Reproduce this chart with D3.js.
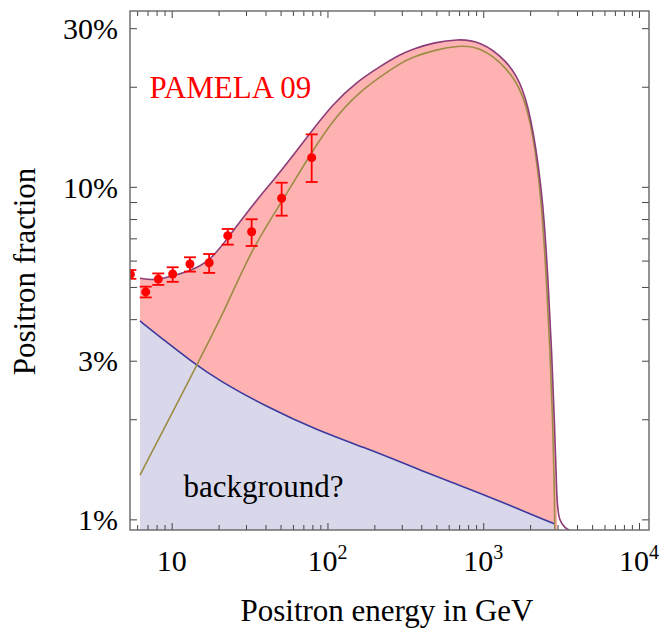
<!DOCTYPE html>
<html>
<head>
<meta charset="utf-8">
<script src="https://cdn.jsdelivr.net/npm/d3@7"></script>
<style>
  body { margin: 0; background: #fff; }
  svg { display: block; font-family: "Liberation Serif", "Times New Roman", serif; }
</style>
</head>
<body>
<svg id="chart" width="660" height="638"></svg>
<script>
//  background curve (energy in GeV, positron fraction in %)
const bgEnergy = [6.26, 9.29, 13.1, 19.9, 40.7, 85.2, 178.5, 292, 600, 952, 2886];
const bgFrac   = [3.95, 3.41, 3.01, 2.62, 2.18, 1.856, 1.635, 1.49, 1.30, 1.20, 0.968];

//  signal curve
const sigEnergy = [6.26, 12.97, 14.47, 21.98, 32.6, 50.8, 79.2, 109, 152.4, 217, 292, 355, 490, 691, 952, 1413, 1806, 2094, 2370, 2552, 2681, 2788, 2856, 2886, 2895];
const sigFrac   = [1.359, 2.624, 2.911, 4.26, 6.5, 9.0, 12.73, 15.9, 18.9, 21.4, 23.5, 24.6, 25.8, 26.6, 26.4, 22.97, 19.1, 14.48, 9.12, 5.13, 3.23, 2.035, 1.283, 0.929, 0.5];

//  total = signal + background
const totEnergy = [6.26, 7.44, 8.6, 10.15, 13.11, 17.43, 22.88, 32.6, 50.8, 77.2, 109, 152.4, 217, 292, 355, 490, 675, 952, 1413, 1806, 2094, 2427, 2613, 2748, 2856, 2959, 2985, 3782, 4300];
const totFrac   = [5.31, 5.25, 5.29, 5.40, 5.59, 5.95, 7.0, 8.75, 11.2, 14.5, 17.8, 20.6, 23.0, 25.0, 26.0, 27.2, 27.8, 27.5, 24.1, 20.0, 15.0, 9.12, 5.13, 3.23, 2.035, 1.283, 0.961, 0.918, 0.88];
const fillEnd = 27;  // pink fill stops at the cutoff

//  PAMELA 09 data points
const pamE  = [5.43, 6.81, 8.20, 10.15, 13.1, 17.4, 22.9, 32.6, 50.8, 79.2];
const pamF  = [5.46, 4.83, 5.28, 5.47, 5.86, 5.91, 7.13, 7.33, 9.24, 12.24];
const pamHi = [5.62, 5.01, 5.49, 5.73, 6.14, 6.28, 7.47, 7.99, 10.29, 14.38];
const pamLo = [5.29, 4.65, 5.07, 5.18, 5.56, 5.51, 6.70, 6.64, 8.19, 10.34];

//  ticks
const xMajor = [10, 100, 1000, 10000];
const xMajorLabels = [["10", ""], ["10", "2"], ["10", "3"], ["10", "4"]];
const xMinor = [6, 7, 8, 9, 20, 30, 40, 50, 60, 70, 80, 90, 200, 300, 400, 500, 600, 700, 800, 900,
                2000, 3000, 4000, 5000, 6000, 7000, 8000, 9000];
const yTicks = [1, 2, 3, 4, 5, 6, 7, 8, 9, 10, 20, 30];
const yLabelTicks = [1, 3, 10, 30];

const w = 660, h = 638;
const margin = {top: 11, right: 11, bottom: 108, left: 130};
const svg = d3.select("#chart");

const x = d3.scaleLog().domain([5.4, 11590]).range([margin.left, w - margin.right]);
const y = d3.scaleLog().domain([0.929, 33.79]).range([h - margin.bottom, margin.top]);
const px0 = margin.left, px1 = w - margin.right, py0 = margin.top, py1 = h - margin.bottom;

svg.append("clipPath").attr("id", "plotclip")
  .append("rect").attr("x", px0).attr("y", py0).attr("width", px1 - px0).attr("height", py1 - py0);

const plot = svg.append("g").attr("clip-path", "url(#plotclip)");

const bgPts  = bgEnergy.map((e, i) => [e, bgFrac[i]]);
const sigPts = sigEnergy.map((e, i) => [e, sigFrac[i]]);
const totPts = totEnergy.map((e, i) => [e, totFrac[i]]);

const line = d3.line().x(d => x(d[0])).y(d => y(d[1])).curve(d3.curveBasis);
const area = d3.area().x(d => x(d[0])).y0(py1).y1(d => y(d[1])).curve(d3.curveBasis);

//  fills
plot.append("path").attr("d", area(totPts.slice(0, fillEnd))).attr("fill", "#ffb2b2");
plot.append("path").attr("d", area(bgPts)).attr("fill", "#d9d8eb");

//  curves
plot.append("path").attr("d", line(bgPts)).attr("fill", "none")
  .attr("stroke", "#3a3a9e").attr("stroke-width", 1.6);
plot.append("path").attr("d", line(sigPts)).attr("fill", "none")
  .attr("stroke", "#9c8c45").attr("stroke-width", 1.6);
plot.append("path").attr("d", line(totPts)).attr("fill", "none")
  .attr("stroke", "#8c3c78").attr("stroke-width", 1.6);

//  data points with error bars
const pts = plot.append("g").attr("stroke", "#ff0000").attr("fill", "#ff0000").attr("stroke-width", 1.8);
pamE.forEach((e, i) => {
  const cx = x(e);
  pts.append("line").attr("x1", cx).attr("x2", cx).attr("y1", y(pamLo[i])).attr("y2", y(pamHi[i]));
  pts.append("line").attr("x1", cx - 6).attr("x2", cx + 6).attr("y1", y(pamLo[i])).attr("y2", y(pamLo[i]));
  pts.append("line").attr("x1", cx - 6).attr("x2", cx + 6).attr("y1", y(pamHi[i])).attr("y2", y(pamHi[i]));
  pts.append("circle").attr("cx", cx).attr("cy", y(pamF[i])).attr("r", 4.5).attr("stroke", "none");
});

//  axes (ticks pointing inward)
const tickCol = "#444";
const isMajor = d => xMajor.includes(d);

const axBottom = svg.append("g").attr("transform", `translate(0,${py1})`)
  .call(d3.axisBottom(x).tickValues(xMinor.concat(xMajor)).tickSizeInner(-5).tickSizeOuter(0).tickFormat(""));
axBottom.selectAll(".tick line").attr("y2", d => isMajor(d) ? -7 : -5);

const axTop = svg.append("g").attr("transform", `translate(0,${py0})`)
  .call(d3.axisTop(x).tickValues(xMinor.concat(xMajor)).tickSizeInner(-5).tickSizeOuter(0).tickFormat(""));
axTop.selectAll(".tick line").attr("y2", d => isMajor(d) ? 7 : 5);

const axLeft = svg.append("g").attr("transform", `translate(${px0},0)`)
  .call(d3.axisLeft(y).tickValues(yTicks).tickSizeInner(-7).tickSizeOuter(0).tickPadding(12)
    .tickFormat(d => yLabelTicks.includes(d) ? d + "%" : ""));

const axRight = svg.append("g").attr("transform", `translate(${px1},0)`)
  .call(d3.axisRight(y).tickValues(yTicks).tickSizeInner(-7).tickSizeOuter(0).tickFormat(""));

[axBottom, axTop, axLeft, axRight].forEach(g => {
  g.select(".domain").remove();
  g.selectAll(".tick line").attr("stroke", tickCol).attr("stroke-width", 1);
});

axLeft.selectAll(".tick text")
  .attr("font-family", "Liberation Serif, Times New Roman, serif")
  .attr("font-size", 30).attr("fill", "#000").attr("dy", "0.34em");

//  x tick labels with superscripts
xMajor.forEach((v, i) => {
  const t = svg.append("text").attr("x", x(v)).attr("y", py1 + 41)
    .attr("text-anchor", "middle").attr("font-size", 30).attr("fill", "#000");
  t.append("tspan").text(xMajorLabels[i][0]);
  if (xMajorLabels[i][1])
    t.append("tspan").attr("dy", -12).attr("font-size", 20).text(xMajorLabels[i][1]);
});

//  frame
svg.append("rect").attr("x", px0).attr("y", py0).attr("width", px1 - px0).attr("height", py1 - py0)
  .attr("fill", "none").attr("stroke", "#666").attr("stroke-width", 1.4);

//  labels
svg.append("text").attr("x", 149.5).attr("y", 97.7).attr("fill", "#ff0000")
  .attr("font-size", 31).text("PAMELA 09");
svg.append("text").attr("x", 183.5).attr("y", 496.7).attr("fill", "#000")
  .attr("font-size", 31).text("background?");

svg.append("text").attr("x", 387).attr("y", 621).attr("text-anchor", "middle")
  .attr("font-size", 31).text("Positron energy in GeV");
svg.append("text").attr("transform", "translate(35,271.5) rotate(-90)").attr("text-anchor", "middle")
  .attr("font-size", 31).text("Positron fraction");
</script>
</body>
</html>
